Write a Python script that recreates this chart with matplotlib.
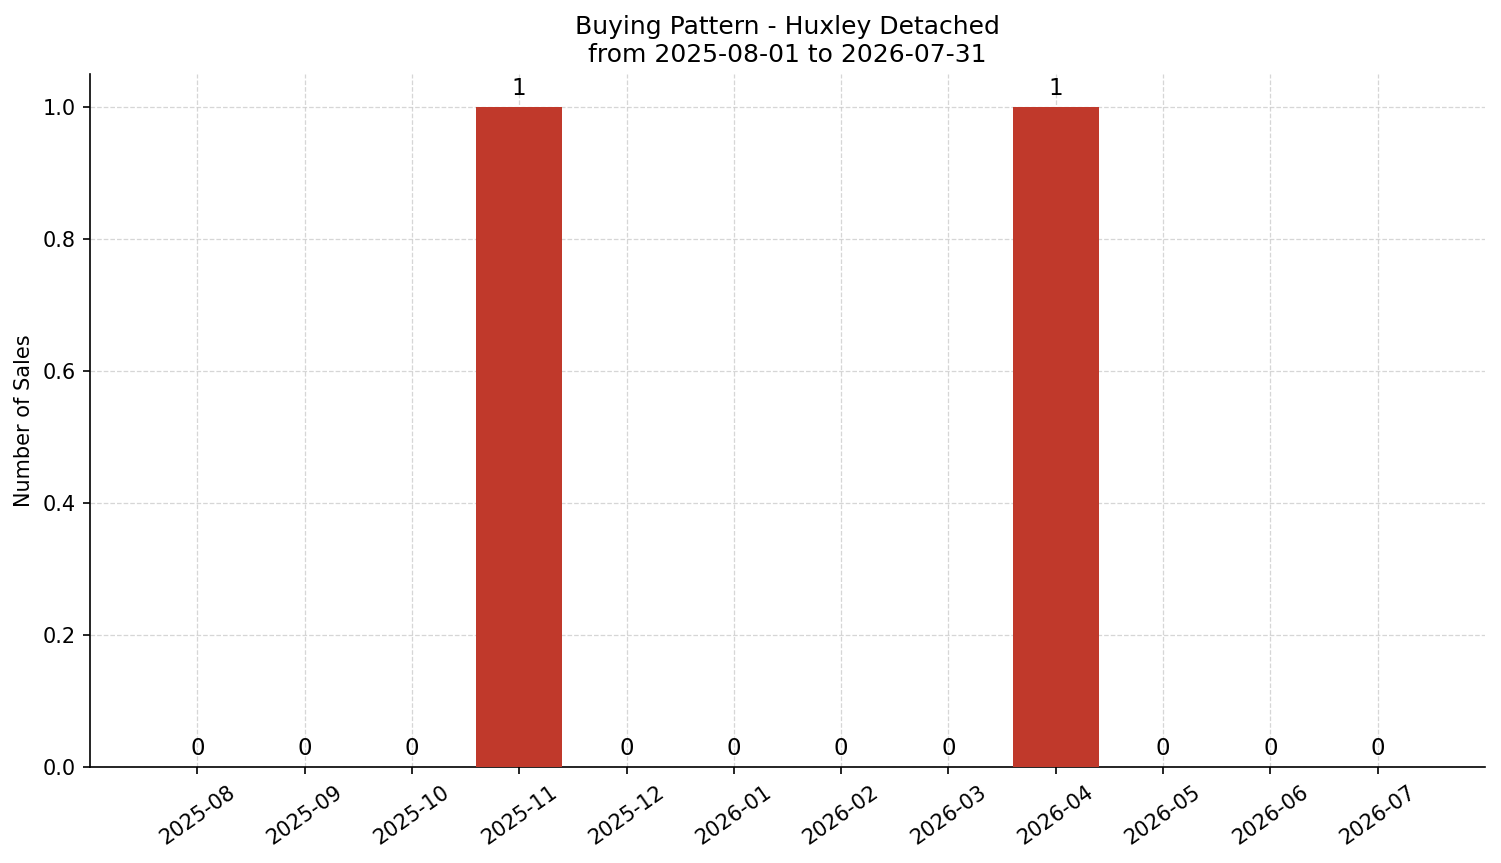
import matplotlib
matplotlib.use("Agg")
import matplotlib.pyplot as plt

months = ["2025-08","2025-09","2025-10","2025-11","2025-12","2026-01",
          "2026-02","2026-03","2026-04","2026-05","2026-06","2026-07"]
sales = [0,0,0,1,0,0,0,0,1,0,0,0]

fig = plt.figure(figsize=(1501/150, 863/150), dpi=150)
ax = fig.add_axes([90/1501, 1-767/863, (1485-90)/1501, (767-74)/863])
x = list(range(len(months)))
bars = ax.bar(x, sales, width=0.8, color="#c0392b", zorder=3)
for xi, v in zip(x, sales):
    ax.text(xi, v + 0.01, str(v), ha="center", va="bottom", fontsize=11)
ax.set_xticks(x)
ax.set_xticklabels(months, rotation=35)
ax.set_xlim(-1, 12)
ax.set_ylim(0, 1.05)
ax.set_ylabel("Number of Sales")
ax.set_title("Buying Pattern - Huxley Detached\nfrom 2025-08-01 to 2026-07-31", fontsize=12)
ax.grid(True, linestyle="--", linewidth=0.6, color="#cccccc", alpha=0.8, zorder=0)
ax.spines["top"].set_visible(False)
ax.spines["right"].set_visible(False)
fig.savefig("out.png", dpi=150)
